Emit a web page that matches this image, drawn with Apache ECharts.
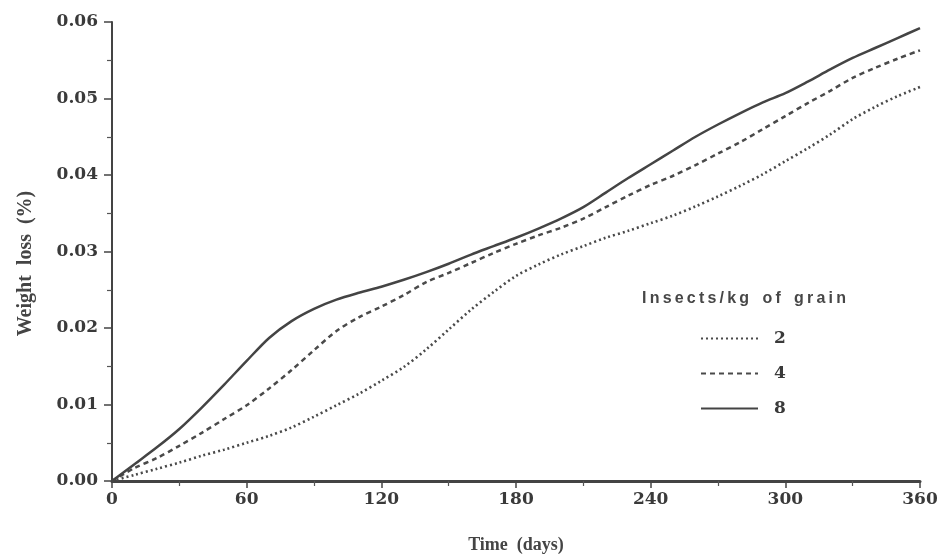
<!DOCTYPE html>
<html>
<head>
<meta charset="utf-8">
<script src="https://cdn.jsdelivr.net/npm/echarts@6/dist/echarts.min.js"></script>
<style>html,body{margin:0;padding:0;background:#fff}#c{width:941px;height:555px}</style>
</head>
<body>
<div id="c"></div>
<script>
const days = [0,10,20,30,40,50,60,70,80,90,100,110,120,130,140,150,160,170,180,190,200,210,220,230,240,250,260,270,280,290,300,310,320,330,340,350,360];
const loss2 = [0,0.0008,0.0016,0.0024,0.0033,0.0041,0.0050,0.0059,0.0070,0.0084,0.0099,0.0114,0.0131,0.0149,0.0172,0.0198,0.0224,0.0247,0.0268,0.0283,0.0296,0.0307,0.0318,0.0327,0.0337,0.0347,0.0359,0.0372,0.0386,0.0401,0.0418,0.0435,0.0453,0.0473,0.0489,0.0503,0.0515];
const loss4 = [0,0.0017,0.0030,0.0046,0.0063,0.0081,0.0099,0.0121,0.0145,0.0171,0.0196,0.0214,0.0228,0.0243,0.0260,0.0272,0.0285,0.0298,0.0310,0.0321,0.0331,0.0343,0.0358,0.0373,0.0387,0.0399,0.0413,0.0428,0.0443,0.0460,0.0477,0.0494,0.0510,0.0527,0.0540,0.0552,0.0563];
const loss8 = [0,0.0022,0.0044,0.0068,0.0096,0.0126,0.0157,0.0187,0.0209,0.0225,0.0237,0.0246,0.0254,0.0263,0.0273,0.0284,0.0296,0.0307,0.0318,0.0330,0.0343,0.0358,0.0377,0.0396,0.0414,0.0432,0.0450,0.0466,0.0481,0.0495,0.0507,0.0522,0.0538,0.0553,0.0566,0.0579,0.0592];
const seriesNames = ['2','4','8'];
const xTicks = [0,60,120,180,240,300,360];
const yTicks = [0,0.01,0.02,0.03,0.04,0.05,0.06];
const legendTitle = 'Insects/kg of grain';

const pair = arr => days.map((d,i)=>[d,arr[i]]);
const serif = '"Liberation Serif", "DejaVu Serif", serif';
const dserif = '"DejaVu Serif", serif';
const sans = '"Liberation Sans", Arial, sans-serif';
const ink = '#3a3a3a';
const spaced = legendTitle.split(' ').map(w => w.split('').join('\u2009')).join('   ');

const chart = echarts.init(document.getElementById('c'));
chart.setOption({
  animation: false,
  backgroundColor: '#fff',
  title: {
    text: spaced,
    left: 637, top: 286,
    textStyle: {fontFamily: sans, fontWeight: 'bold', fontSize: 16, color: '#474747'}
  },
  legend: {
    orient: 'vertical',
    left: 695, top: 325,
    itemWidth: 57, itemHeight: 14, itemGap: 18,
    data: seriesNames,
    itemStyle: {opacity: 0},
    textStyle: {fontFamily: dserif, fontWeight: 'bold', fontSize: 17, color: ink, padding: [0,0,0,11]}
  },
  grid: {left: 112, right: 21, top: 22, bottom: 74, containLabel: false, outerBoundsMode: 'none'},
  xAxis: {
    type: 'value', min: xTicks[0], max: xTicks[xTicks.length-1], interval: 60,
    name: 'Time  (days)', nameLocation: 'middle', nameGap: 55,
    nameTextStyle: {fontFamily: serif, fontWeight: 'bold', fontSize: 18, color: '#444'},
    axisLine: {lineStyle: {color: '#444', width: 3}},
    axisTick: {length: 7, lineStyle: {color: '#444', width: 1.5}},
    minorTick: {show: true, splitNumber: 2, length: 5, lineStyle: {color: '#555', width: 1.2}},
    splitLine: {show: false},
    axisLabel: {margin: 10, fontFamily: dserif, fontWeight: 'bold', fontSize: 17, color: ink}
  },
  yAxis: {
    type: 'value', min: yTicks[0], max: yTicks[yTicks.length-1], interval: 0.01,
    name: 'Weight  loss  (%)', nameLocation: 'middle', nameGap: 76, nameRotate: 90,
    nameTextStyle: {fontFamily: serif, fontWeight: 'bold', fontSize: 20, color: '#444', padding: [0,24,0,0]},
    axisLine: {lineStyle: {color: '#444', width: 2}},
    axisTick: {length: 8, lineStyle: {color: '#444', width: 1.5}},
    minorTick: {show: true, splitNumber: 2, length: 5, lineStyle: {color: '#555', width: 1.2}},
    splitLine: {show: false},
    axisLabel: {margin: 14, fontFamily: dserif, fontWeight: 'bold', fontSize: 17, color: ink,
      formatter: v => v.toFixed(2)}
  },
  series: [
    {name: seriesNames[0], type: 'line', data: pair(loss2), smooth: 0.3, symbol: 'none',
      lineStyle: {color: '#4a4a4a', width: 2.6, type: [2,3]}, itemStyle: {color: '#4a4a4a'}},
    {name: seriesNames[1], type: 'line', data: pair(loss4), smooth: 0.3, symbol: 'none',
      lineStyle: {color: '#4a4a4a', width: 2.5, type: [5,4]}, itemStyle: {color: '#4a4a4a'}},
    {name: seriesNames[2], type: 'line', data: pair(loss8), smooth: 0.3, symbol: 'none',
      lineStyle: {color: '#444', width: 2.5, type: 'solid'}, itemStyle: {color: '#444'}}
  ]
});
</script>
</body>
</html>
